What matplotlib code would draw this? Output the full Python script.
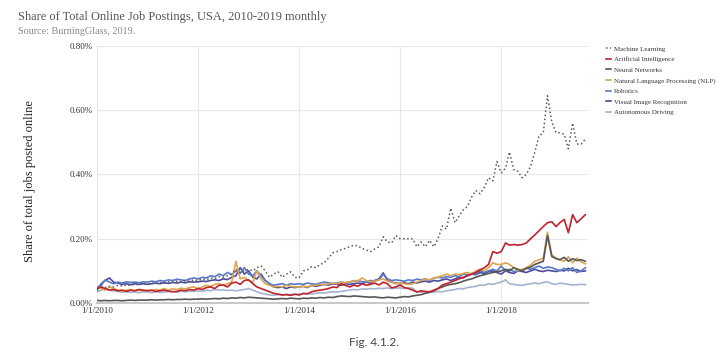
import matplotlib
matplotlib.use("Agg")
import matplotlib.pyplot as plt
from matplotlib.ticker import FuncFormatter, MultipleLocator
import pandas as pd

dates = pd.date_range("2010-01-01", "2019-09-01", freq="MS")

machine_learning = [
    0.045,0.05,0.048,0.052,0.05,0.055,0.053,0.056,0.055,0.058,0.057,0.06,
    0.058,0.062,0.06,0.064,0.062,0.066,0.065,0.068,0.066,0.07,0.068,0.072,
    0.07,0.075,0.072,0.078,0.076,0.082,0.08,0.085,0.09,0.105,0.095,0.1,
    0.105,0.1,0.11,0.115,0.1,0.08,0.09,0.097,0.08,0.09,0.097,0.08,
    0.078,0.1,0.103,0.113,0.11,0.12,0.125,0.14,0.156,0.16,0.166,0.17,
    0.175,0.18,0.178,0.17,0.165,0.16,0.168,0.175,0.206,0.19,0.187,0.21,
    0.2,0.2,0.2,0.2,0.175,0.19,0.175,0.195,0.175,0.2,0.24,0.23,
    0.295,0.25,0.27,0.29,0.3,0.33,0.35,0.34,0.36,0.39,0.38,0.44,
    0.405,0.42,0.47,0.415,0.41,0.39,0.4,0.425,0.47,0.52,0.53,0.645,
    0.565,0.53,0.53,0.525,0.48,0.56,0.495,0.495,0.51]

artificial_intelligence = [
    0.045,0.05,0.045,0.04,0.042,0.038,0.04,0.036,0.04,0.038,0.042,0.04,
    0.038,0.04,0.036,0.038,0.04,0.037,0.035,0.036,0.04,0.038,0.042,0.04,
    0.045,0.042,0.048,0.05,0.045,0.055,0.056,0.05,0.062,0.065,0.058,0.07,
    0.072,0.06,0.05,0.045,0.04,0.035,0.03,0.028,0.025,0.026,0.024,0.027,
    0.025,0.03,0.028,0.035,0.038,0.04,0.042,0.045,0.05,0.048,0.06,0.055,
    0.05,0.056,0.052,0.06,0.055,0.058,0.062,0.056,0.065,0.06,0.047,0.05,
    0.056,0.048,0.045,0.04,0.034,0.038,0.036,0.035,0.04,0.045,0.056,0.06,
    0.065,0.07,0.075,0.08,0.085,0.09,0.095,0.103,0.11,0.12,0.16,0.155,
    0.16,0.187,0.18,0.182,0.18,0.182,0.187,0.2,0.212,0.225,0.238,0.25,
    0.253,0.238,0.25,0.26,0.219,0.275,0.25,0.262,0.275]

neural_networks = [
    0.008,0.007,0.008,0.007,0.008,0.008,0.007,0.008,0.009,0.008,0.009,0.009,
    0.009,0.01,0.009,0.01,0.01,0.011,0.01,0.011,0.011,0.012,0.011,0.012,
    0.012,0.013,0.012,0.013,0.014,0.013,0.015,0.014,0.016,0.015,0.017,0.016,
    0.018,0.017,0.016,0.015,0.014,0.013,0.012,0.013,0.014,0.013,0.015,0.014,
    0.013,0.015,0.014,0.016,0.015,0.017,0.016,0.018,0.017,0.02,0.022,0.021,
    0.02,0.022,0.021,0.02,0.019,0.018,0.019,0.017,0.016,0.018,0.017,0.016,
    0.018,0.02,0.019,0.022,0.024,0.026,0.03,0.033,0.038,0.045,0.05,0.055,
    0.058,0.06,0.063,0.068,0.072,0.075,0.08,0.085,0.088,0.092,0.095,0.097,
    0.1,0.105,0.1,0.11,0.105,0.1,0.108,0.112,0.12,0.125,0.13,0.21,
    0.145,0.138,0.135,0.142,0.13,0.138,0.132,0.135,0.13]

nlp = [
    0.05,0.045,0.04,0.05,0.045,0.04,0.038,0.04,0.042,0.038,0.04,0.037,
    0.04,0.038,0.042,0.04,0.045,0.04,0.044,0.042,0.046,0.044,0.048,0.05,
    0.045,0.05,0.055,0.052,0.058,0.06,0.055,0.06,0.065,0.13,0.075,0.08,
    0.07,0.065,0.1,0.075,0.06,0.055,0.05,0.052,0.05,0.055,0.052,0.05,
    0.05,0.052,0.05,0.054,0.055,0.058,0.056,0.06,0.062,0.06,0.065,0.063,
    0.066,0.07,0.068,0.078,0.07,0.066,0.068,0.072,0.075,0.068,0.065,0.06,
    0.062,0.06,0.058,0.06,0.065,0.07,0.075,0.072,0.078,0.08,0.085,0.09,
    0.085,0.09,0.088,0.092,0.095,0.09,0.1,0.105,0.1,0.11,0.125,0.12,
    0.12,0.125,0.12,0.11,0.1,0.105,0.11,0.118,0.13,0.134,0.14,0.22,
    0.15,0.14,0.134,0.13,0.144,0.125,0.14,0.128,0.122]

robotics = [
    0.05,0.055,0.072,0.065,0.06,0.065,0.062,0.066,0.064,0.065,0.063,0.066,
    0.065,0.068,0.066,0.07,0.068,0.072,0.07,0.074,0.072,0.07,0.075,0.078,
    0.075,0.08,0.078,0.085,0.082,0.09,0.085,0.095,0.088,0.1,0.092,0.11,
    0.09,0.085,0.1,0.085,0.07,0.06,0.055,0.058,0.06,0.055,0.06,0.058,
    0.06,0.058,0.062,0.06,0.058,0.062,0.065,0.063,0.06,0.062,0.065,0.063,
    0.065,0.068,0.07,0.066,0.065,0.07,0.068,0.072,0.09,0.075,0.07,0.072,
    0.07,0.068,0.072,0.07,0.074,0.072,0.075,0.07,0.078,0.08,0.078,0.082,
    0.08,0.085,0.082,0.09,0.088,0.092,0.09,0.1,0.095,0.1,0.105,0.1,
    0.115,0.1,0.105,0.098,0.1,0.102,0.108,0.105,0.11,0.115,0.108,0.112,
    0.11,0.105,0.1,0.108,0.1,0.11,0.095,0.1,0.11]

visual_image_recognition = [
    0.04,0.06,0.07,0.078,0.065,0.062,0.058,0.06,0.057,0.06,0.058,0.06,
    0.058,0.06,0.062,0.06,0.063,0.061,0.064,0.062,0.065,0.063,0.066,0.065,
    0.066,0.068,0.067,0.07,0.072,0.07,0.075,0.073,0.08,0.085,0.11,0.09,
    0.1,0.08,0.075,0.09,0.07,0.06,0.05,0.048,0.05,0.045,0.05,0.048,
    0.05,0.052,0.048,0.055,0.052,0.055,0.058,0.056,0.06,0.058,0.055,0.06,
    0.058,0.06,0.062,0.06,0.065,0.062,0.07,0.075,0.094,0.07,0.065,0.062,
    0.06,0.063,0.06,0.065,0.062,0.066,0.068,0.065,0.07,0.068,0.072,0.075,
    0.07,0.075,0.08,0.078,0.085,0.09,0.088,0.095,0.092,0.098,0.1,0.095,
    0.09,0.1,0.095,0.092,0.1,0.098,0.095,0.1,0.105,0.1,0.098,0.102,
    0.1,0.098,0.102,0.1,0.108,0.1,0.104,0.098,0.1]

autonomous_driving = [
    0.035,0.04,0.045,0.04,0.038,0.036,0.034,0.035,0.033,0.034,0.032,0.035,
    0.034,0.032,0.035,0.033,0.034,0.036,0.035,0.034,0.036,0.035,0.037,0.036,
    0.038,0.036,0.04,0.038,0.042,0.04,0.041,0.039,0.04,0.038,0.04,0.042,
    0.045,0.04,0.035,0.03,0.028,0.025,0.024,0.026,0.025,0.027,0.026,0.028,
    0.027,0.029,0.03,0.028,0.03,0.032,0.031,0.033,0.035,0.034,0.036,0.038,
    0.04,0.042,0.041,0.044,0.043,0.045,0.044,0.046,0.045,0.047,0.045,0.046,
    0.047,0.045,0.048,0.046,0.035,0.034,0.033,0.035,0.034,0.036,0.035,0.038,
    0.04,0.042,0.045,0.044,0.048,0.05,0.052,0.056,0.055,0.06,0.058,0.062,
    0.065,0.072,0.06,0.058,0.056,0.055,0.058,0.06,0.062,0.06,0.064,0.066,
    0.06,0.058,0.062,0.06,0.058,0.056,0.057,0.058,0.057]

labels = ["Machine Learning", "Artificial Intelligence", "Neural Networks",
          "Natural Language Processing (NLP)", "Robotics",
          "Visual Image Recognition", "Autonomous Driving"]
tick_years = [2010, 2012, 2014, 2016, 2018]
tick_labels = ["1/1/2010", "1/1/2012", "1/1/2014", "1/1/2016", "1/1/2018"]

serif = "Liberation Serif"
fig = plt.figure(figsize=(7.2, 3.56), dpi=100)
ax = fig.add_axes([97/720, 1-303/356, (588-97)/720, (303-46)/356])

series = [machine_learning, artificial_intelligence, neural_networks, nlp,
          robotics, visual_image_recognition, autonomous_driving]
colors = ["#5a5a5a", "#c0232c", "#565656", "#dca550", "#5878c8", "#4c4a9e", "#a3b4d2"]
styles = [":", "-", "-", "-", "-", "-", "-"]
order = [6, 2, 4, 5, 3, 1, 0]
handles = {}
for i in order:
    h, = ax.plot(dates, series[i], color=colors[i], ls=styles[i],
                 lw=1.2 if i else 1.1, label=labels[i], zorder=3 + (7 - i) * 0.1)
    handles[i] = h

ax.set_xlim(pd.Timestamp("2010-01-01"), pd.Timestamp("2019-09-20"))
ax.set_ylim(0, 0.8)
ax.yaxis.set_major_locator(MultipleLocator(0.2))
ax.yaxis.set_major_formatter(FuncFormatter(lambda v, p: f"{v:.2f}%"))
ax.set_xticks([pd.Timestamp(f"{y}-01-01") for y in tick_years])
ax.set_xticklabels(tick_labels)
ax.grid(True, color="#e8e8e8", lw=0.8, zorder=0)
ax.tick_params(length=0, labelsize=6.5, colors="#333333", pad=3)
for lab in ax.get_xticklabels() + ax.get_yticklabels():
    lab.set_fontfamily(serif)
for s in ["top", "right", "left"]:
    ax.spines[s].set_visible(False)
ax.spines["bottom"].set_color("#c8c8c8")
ax.spines["bottom"].set_linewidth(1.5)

ax.set_ylabel("Share of total jobs posted online", fontfamily=serif, fontsize=9.0,
              color="#222222")
ax.yaxis.set_label_coords((36 - 97) / 491, (303 - 181) / 257)

fig.text(18/720, 1-17/356, "Share of Total Online Job Postings, USA, 2010-2019 monthly",
         fontfamily=serif, fontsize=8.9, color="#555555", va="center", ha="left")
fig.text(18/720, 1-32/356, "Source: BurningGlass, 2019.", fontfamily=serif,
         fontsize=7.3, color="#8a8a8a", va="center", ha="left")
fig.text(374/720, 1-342/356, "Fig. 4.1.2.", fontfamily="Lato", fontsize=8.5,
         color="#444444", va="center", ha="center")

leg = fig.legend([handles[i] for i in range(7)], labels, loc="upper left",
                 bbox_to_anchor=(603/720, 1-43/356), frameon=False,
                 prop={"family": serif, "size": 5.0}, handlelength=0.7,
                 handletextpad=0.5, labelspacing=0.68, borderaxespad=0)
for t in leg.get_texts():
    t.set_color("#333333")

fig.savefig("out.png", dpi=100)
